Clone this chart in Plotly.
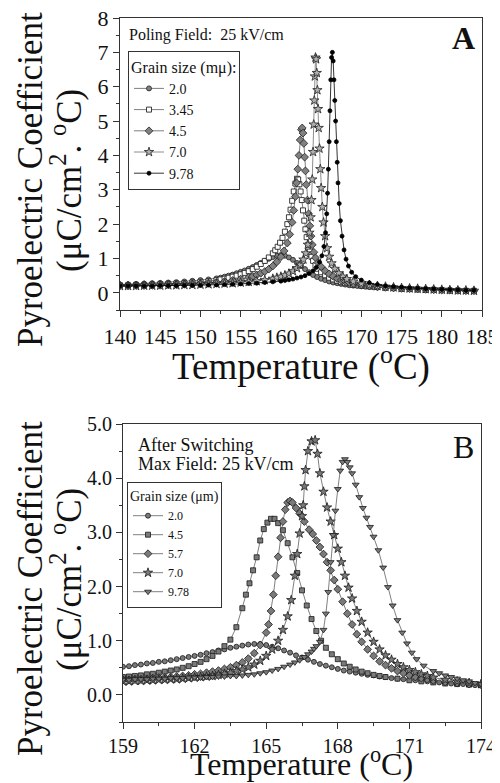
import plotly.graph_objects as go

# ---------------- Panel A: poling field 25 kV/cm ----------------
a_labels = ["2.0", "3.45", "4.5", "7.0", "9.78"]

a_t_20 = [140, 141, 142, 143, 144, 145, 146, 147, 148, 149, 150, 151, 152, 152.5, 153, 153.5,
          154, 154.5, 155, 155.5, 156, 156.5, 157, 157.5, 158, 158.5, 159, 159.5, 160, 160.5,
          161, 161.5, 162, 162.5, 163, 163.5, 164, 164.5, 165, 165.5, 166, 166.5, 167, 167.5,
          168, 168.5, 169, 169.5, 170, 170.5, 171, 171.5, 172, 173, 174, 175, 176, 177, 178,
          179, 180, 181, 182, 183, 184]
a_v_20 = [0.24, 0.25, 0.26, 0.27, 0.28, 0.29, 0.30, 0.31, 0.33, 0.35, 0.37, 0.39, 0.42, 0.44,
          0.47, 0.50, 0.53, 0.57, 0.61, 0.65, 0.70, 0.75, 0.81, 0.87, 0.93, 0.99, 1.04, 1.08,
          1.10, 1.08, 1.03, 0.96, 0.87, 0.78, 0.69, 0.60, 0.52, 0.46, 0.41, 0.37, 0.33, 0.30,
          0.28, 0.26, 0.24, 0.22, 0.21, 0.20, 0.19, 0.18, 0.17, 0.16, 0.15, 0.14, 0.13, 0.12,
          0.11, 0.10, 0.09, 0.09, 0.08, 0.07, 0.07, 0.06, 0.06]

a_t_345 = [140, 141, 142, 143, 144, 145, 146, 147, 148, 149, 150, 151, 152, 152.5, 153, 153.5,
           154, 154.5, 155, 155.5, 156, 156.5, 157, 157.5, 158, 158.5, 159, 159.3, 159.6, 159.9,
           160.2, 160.5, 160.8, 161.0, 161.2, 161.4, 161.6, 161.8, 162.0, 162.15, 162.3, 162.45,
           162.6, 162.75, 162.9, 163.05, 163.2, 163.4, 163.6, 163.8, 164, 164.3, 164.6, 165,
           165.5, 166, 166.5, 167, 167.5, 168, 169, 170, 171, 172, 173, 174, 175, 176, 177, 178,
           179, 180, 181, 182, 183, 184]
a_v_345 = [0.22, 0.22, 0.23, 0.23, 0.24, 0.25, 0.26, 0.27, 0.28, 0.30, 0.32, 0.34, 0.37, 0.39,
           0.41, 0.44, 0.47, 0.50, 0.54, 0.58, 0.63, 0.69, 0.76, 0.84, 0.93, 1.03, 1.15, 1.24,
           1.34, 1.46, 1.60, 1.78, 2.00, 2.20, 2.42, 2.68, 2.95, 3.18, 3.32, 3.30, 3.16, 2.95,
           2.70, 2.40, 2.10, 1.85, 1.62, 1.40, 1.20, 1.05, 0.93, 0.80, 0.70, 0.60, 0.51, 0.44,
           0.39, 0.35, 0.31, 0.28, 0.24, 0.21, 0.19, 0.17, 0.15, 0.14, 0.12, 0.11, 0.10, 0.09,
           0.09, 0.08, 0.07, 0.07, 0.06, 0.06]

a_t_45 = [140, 141, 142, 143, 144, 145, 146, 147, 148, 149, 150, 151, 152, 153, 154, 155, 156,
          156.5, 157, 157.5, 158, 158.5, 159, 159.5, 160, 160.4, 160.8, 161.1, 161.4, 161.6,
          161.8, 161.95, 162.1, 162.25, 162.4, 162.55, 162.65, 162.75, 162.85, 162.95, 163.05,
          163.15, 163.3, 163.45, 163.6, 163.75, 163.9, 164.1, 164.3, 164.6, 165, 165.5, 166,
          166.5, 167, 167.5, 168, 168.5, 169, 170, 171, 172, 173, 174, 175, 176, 177, 178, 179,
          180, 181, 182, 183, 184]
a_v_45 = [0.20, 0.20, 0.21, 0.21, 0.22, 0.22, 0.23, 0.24, 0.25, 0.26, 0.27, 0.29, 0.31, 0.33,
          0.36, 0.40, 0.45, 0.48, 0.52, 0.57, 0.62, 0.69, 0.78, 0.90, 1.05, 1.22, 1.45, 1.70,
          2.05, 2.40, 2.80, 3.20, 3.60, 4.00, 4.45, 4.75, 4.80, 4.65, 4.35, 3.95, 3.55, 3.15,
          2.70, 2.30, 1.95, 1.65, 1.40, 1.18, 1.02, 0.88, 0.76, 0.64, 0.55, 0.48, 0.42, 0.37,
          0.33, 0.30, 0.27, 0.23, 0.20, 0.18, 0.16, 0.14, 0.13, 0.12, 0.11, 0.10, 0.09, 0.08,
          0.08, 0.07, 0.06, 0.06]

a_t_70 = [140, 141, 142, 143, 144, 145, 146, 147, 148, 149, 150, 151, 152, 153, 154, 155, 156,
          157, 158, 159, 159.5, 160, 160.5, 161, 161.5, 162, 162.4, 162.8, 163.1, 163.35,
          163.55, 163.7, 163.8, 163.9, 164.0, 164.08, 164.15, 164.22, 164.3, 164.38, 164.46,
          164.54, 164.62, 164.7, 164.8, 164.9, 165.0, 165.15, 165.3, 165.5, 165.75, 166.0,
          166.3, 166.7, 167.2, 167.7, 168.2, 169, 170, 171, 172, 173, 174, 175, 176, 177, 178,
          179, 180, 181, 182, 183, 184]
a_v_70 = [0.20, 0.20, 0.20, 0.21, 0.21, 0.21, 0.22, 0.22, 0.23, 0.23, 0.24, 0.25, 0.26, 0.27,
          0.28, 0.30, 0.32, 0.34, 0.37, 0.41, 0.44, 0.47, 0.51, 0.56, 0.63, 0.72, 0.82, 0.97,
          1.15, 1.40, 1.75, 2.20, 2.70, 3.30, 4.10, 4.90, 5.60, 6.30, 6.85, 6.80, 6.40, 5.90,
          5.35, 4.80, 4.20, 3.60, 3.05, 2.50, 2.05, 1.65, 1.30, 1.05, 0.86, 0.70, 0.57, 0.47,
          0.40, 0.33, 0.27, 0.23, 0.20, 0.18, 0.16, 0.14, 0.13, 0.12, 0.11, 0.10, 0.09, 0.08,
          0.07, 0.07, 0.06]

a_t_978 = [140, 141, 142, 143, 144, 145, 146, 147, 148, 149, 150, 151, 152, 153, 154, 155, 156,
           157, 158, 159, 160, 160.5, 161, 161.5, 162, 162.5, 163, 163.5, 164, 164.4, 164.8,
           165.1, 165.35, 165.55, 165.7, 165.8, 165.9, 166.0, 166.1, 166.2, 166.3, 166.4, 166.5,
           166.6, 166.7, 166.8, 166.9, 167.0, 167.1, 167.25, 167.4, 167.6, 167.85, 168.1, 168.4,
           168.8, 169.3, 170, 171, 172, 173, 174, 175, 176, 177, 178, 179, 180, 181, 182, 183, 184]
a_v_978 = [0.20, 0.20, 0.20, 0.20, 0.20, 0.21, 0.21, 0.21, 0.22, 0.22, 0.22, 0.23, 0.23, 0.24,
           0.25, 0.26, 0.27, 0.28, 0.30, 0.32, 0.34, 0.36, 0.38, 0.40, 0.43, 0.46, 0.50, 0.56,
           0.64, 0.74, 0.90, 1.08, 1.35, 1.75, 2.30, 2.90, 3.60, 4.40, 5.30, 6.20, 6.85, 7.00,
           6.75, 6.20, 5.60, 5.00, 4.40, 3.80, 3.20, 2.60, 2.10, 1.65, 1.25, 0.98, 0.78, 0.60,
           0.47, 0.37, 0.29, 0.24, 0.20, 0.18, 0.16, 0.14, 0.13, 0.12, 0.11, 0.10, 0.09, 0.08,
           0.07, 0.07]

# ---------------- Panel B: after switching ----------------
b_labels = ["2.0", "4.5", "5.7", "7.0", "9.78"]

b_t_20 = [159.0, 159.25, 159.5, 159.75, 160.0, 160.25, 160.5, 160.75, 161.0, 161.25, 161.5,
          161.75, 162.0, 162.25, 162.5, 162.75, 163.0, 163.25, 163.5, 163.75, 164.0, 164.25,
          164.5, 164.75, 165.0, 165.25, 165.5, 165.75, 166.0, 166.25, 166.5, 166.75, 167.0,
          167.25, 167.5, 167.75, 168.0, 168.25, 168.5, 168.75, 169.0, 169.25, 169.5, 169.75,
          170.0, 170.25, 170.5, 170.75, 171.0, 171.25, 171.5, 171.75, 172.0, 172.25, 172.5,
          172.75, 173.0, 173.25, 173.5, 173.75, 174.0]
b_v_20 = [0.52, 0.53, 0.55, 0.56, 0.58, 0.59, 0.61, 0.62, 0.64, 0.66, 0.68, 0.70, 0.72, 0.74,
          0.77, 0.79, 0.82, 0.84, 0.87, 0.89, 0.91, 0.93, 0.94, 0.94, 0.92, 0.89, 0.86, 0.82,
          0.78, 0.73, 0.69, 0.65, 0.61, 0.57, 0.54, 0.51, 0.48, 0.45, 0.43, 0.41, 0.39, 0.37,
          0.36, 0.34, 0.33, 0.31, 0.30, 0.29, 0.28, 0.27, 0.26, 0.25, 0.24, 0.23, 0.22, 0.21,
          0.20, 0.20, 0.19, 0.18, 0.18]

b_t_45 = [159.0, 159.25, 159.5, 159.75, 160.0, 160.25, 160.5, 160.75, 161.0, 161.25, 161.5,
          161.75, 162.0, 162.25, 162.5, 162.75, 163.0, 163.25, 163.5, 163.75, 164.0, 164.15,
          164.3, 164.45, 164.6, 164.75, 164.9, 165.05, 165.2, 165.35, 165.5, 165.7, 165.9,
          166.1, 166.3, 166.5, 166.7, 166.9, 167.1, 167.3, 167.5, 167.75, 168.0, 168.25, 168.5,
          168.75, 169.0, 169.25, 169.5, 169.75, 170.0, 170.5, 171.0, 171.5, 172.0, 172.5,
          173.0, 173.5, 174.0]
b_v_45 = [0.33, 0.34, 0.35, 0.36, 0.38, 0.39, 0.41, 0.43, 0.45, 0.47, 0.50, 0.53, 0.57, 0.61,
          0.66, 0.72, 0.80, 0.90, 1.02, 1.25, 1.60, 1.85, 2.06, 2.30, 2.54, 2.85, 3.06, 3.18,
          3.25, 3.25, 3.17, 3.04, 2.80, 2.54, 2.25, 1.93, 1.65, 1.40, 1.18, 1.00, 0.87, 0.75,
          0.66, 0.58, 0.52, 0.47, 0.43, 0.40, 0.37, 0.35, 0.33, 0.30, 0.27, 0.25, 0.23, 0.21,
          0.20, 0.19, 0.18]

b_t_57 = [159.0, 159.25, 159.5, 159.75, 160.0, 160.25, 160.5, 160.75, 161.0, 161.25, 161.5,
          161.75, 162.0, 162.25, 162.5, 162.75, 163.0, 163.25, 163.5, 163.75, 164.0, 164.25,
          164.5, 164.75, 165.0, 165.1, 165.2, 165.3, 165.4, 165.5, 165.6, 165.7, 165.8, 165.9,
          166.0, 166.1, 166.25, 166.4, 166.6, 166.8, 166.95, 167.1, 167.25, 167.4, 167.55,
          167.7, 167.85, 168.0, 168.2, 168.4, 168.6, 168.8, 169.0, 169.25, 169.5, 169.75,
          170.0, 170.25, 170.5, 170.75, 171.0, 171.25, 171.5, 171.75, 172.0, 172.5, 173.0,
          173.5, 174.0]
b_v_57 = [0.28, 0.28, 0.29, 0.29, 0.30, 0.31, 0.32, 0.32, 0.33, 0.34, 0.35, 0.36, 0.38, 0.39,
          0.41, 0.43, 0.45, 0.48, 0.51, 0.55, 0.60, 0.67, 0.77, 0.92, 1.15, 1.30, 1.55, 1.85,
          2.20, 2.55, 2.90, 3.20, 3.42, 3.55, 3.58, 3.55, 3.45, 3.35, 3.20, 3.05, 2.97, 2.85,
          2.73, 2.60, 2.45, 2.30, 2.12, 1.95, 1.72, 1.50, 1.30, 1.12, 0.98, 0.84, 0.72, 0.62,
          0.55, 0.49, 0.44, 0.40, 0.36, 0.33, 0.31, 0.29, 0.27, 0.24, 0.22, 0.20, 0.19]

b_t_70 = [159.0, 159.25, 159.5, 159.75, 160.0, 160.25, 160.5, 160.75, 161.0, 161.25, 161.5,
          161.75, 162.0, 162.25, 162.5, 162.75, 163.0, 163.25, 163.5, 163.75, 164.0, 164.25,
          164.5, 164.75, 165.0, 165.25, 165.5, 165.7, 165.9, 166.05, 166.2, 166.3, 166.4,
          166.5, 166.55, 166.6, 166.65, 166.75, 166.9, 167.05, 167.15, 167.25, 167.4, 167.55,
          167.7, 167.85, 168.0, 168.15, 168.3, 168.45, 168.6, 168.8, 169.0, 169.25, 169.5,
          169.75, 170.0, 170.25, 170.5, 170.75, 171.0, 171.25, 171.5, 171.75, 172.0, 172.5,
          173.0, 173.5, 174.0]
b_v_70 = [0.25, 0.25, 0.26, 0.26, 0.27, 0.27, 0.28, 0.28, 0.29, 0.29, 0.30, 0.31, 0.32, 0.33,
          0.34, 0.35, 0.37, 0.39, 0.41, 0.44, 0.47, 0.51, 0.56, 0.63, 0.72, 0.84, 1.00, 1.20,
          1.45, 1.75, 2.20, 2.60, 2.98, 3.30, 3.50, 3.85, 4.15, 4.50, 4.68, 4.70, 4.45, 4.09,
          3.75, 3.46, 3.20, 2.95, 2.70, 2.45, 2.20, 1.98, 1.78, 1.55, 1.35, 1.15, 0.98, 0.84,
          0.73, 0.65, 0.57, 0.51, 0.46, 0.42, 0.38, 0.35, 0.32, 0.28, 0.25, 0.22, 0.20]

b_t_978 = [159.0, 159.25, 159.5, 159.75, 160.0, 160.25, 160.5, 160.75, 161.0, 161.25, 161.5,
           161.75, 162.0, 162.25, 162.5, 162.75, 163.0, 163.25, 163.5, 163.75, 164.0, 164.25,
           164.5, 164.75, 165.0, 165.25, 165.5, 165.75, 166.0, 166.2, 166.4, 166.6, 166.75,
           166.9, 167.0, 167.1, 167.25, 167.4, 167.5, 167.6, 167.7, 167.8, 167.9, 168.0, 168.1,
           168.2, 168.3, 168.4, 168.5, 168.6, 168.75, 168.9, 169.05, 169.2, 169.35, 169.5,
           169.7, 169.9, 170.1, 170.3, 170.5, 170.7, 170.9, 171.1, 171.3, 171.6, 172.0, 172.25,
           172.5, 172.75, 173.0, 173.25, 173.5, 173.75, 174.0]
b_v_978 = [0.28, 0.28, 0.29, 0.29, 0.29, 0.30, 0.30, 0.30, 0.31, 0.31, 0.31, 0.32, 0.32, 0.32,
           0.33, 0.33, 0.34, 0.34, 0.35, 0.35, 0.36, 0.37, 0.38, 0.40, 0.42, 0.45, 0.48, 0.52,
           0.56, 0.60, 0.64, 0.70, 0.75, 0.80, 0.85, 0.90, 0.98, 1.20, 1.50, 1.90, 2.45, 2.95,
           3.40, 3.80, 4.14, 4.30, 4.35, 4.30, 4.20, 4.09, 3.88, 3.65, 3.45, 3.27, 3.10, 2.92,
           2.67, 2.35, 1.99, 1.65, 1.38, 1.15, 0.95, 0.78, 0.66, 0.54, 0.44, 0.40, 0.36, 0.33,
           0.30, 0.27, 0.25, 0.22, 0.20]

FONT = "Liberation Serif"
OFF = 8            # page body margin in the browser
W, H = 500 - OFF, 783 - OFF


def px(x):
    # screen pixel x -> paper fraction
    return (x - OFF) / W


def py(y):
    # screen pixel y -> paper fraction
    return 1 - (y - OFF) / H


fig = go.Figure()

# panel A traces
a_series = [
    (a_t_20, a_v_20, "circle", 5, "#808080", "#202020", "#606060"),
    (a_t_345, a_v_345, "square", 5, "#ffffff", "#101010", "#606060"),
    (a_t_45, a_v_45, "diamond", 6, "#808080", "#202020", "#606060"),
    (a_t_70, a_v_70, "star", 7, "#b0b0b0", "#202020", "#707070"),
    (a_t_978, a_v_978, "circle", 4, "#000000", "#000000", "#000000"),
]
for label, (t, v, sym, size, fill, edge, lc) in zip(a_labels, a_series):
    fig.add_trace(go.Scatter(
        x=t, y=v, name=label, mode="lines+markers",
        line=dict(color=lc, width=0.8),
        marker=dict(symbol=sym, size=size, color=fill, line=dict(color=edge, width=0.8)),
        xaxis="x", yaxis="y", legend="legend",
    ))

# panel B traces
b_series = [
    (b_t_20, b_v_20, "circle", 5),
    (b_t_45, b_v_45, "square", 5),
    (b_t_57, b_v_57, "diamond", 6),
    (b_t_70, b_v_70, "star", 7),
    (b_t_978, b_v_978, "triangle-down", 6),
]
for label, (t, v, sym, size) in zip(b_labels, b_series):
    fig.add_trace(go.Scatter(
        x=t, y=v, name=label, mode="lines+markers",
        line=dict(color="#606060", width=0.8),
        marker=dict(symbol=sym, size=size, color="#7a7a7a", line=dict(color="#1a1a1a", width=0.8)),
        xaxis="x2", yaxis="y2", legend="legend2",
    ))

axis_common = dict(
    showline=True, linecolor="#333333", linewidth=1.2, mirror=True,
    ticks="outside", ticklen=6, tickwidth=1, tickcolor="#333333",
    showgrid=False, zeroline=False, automargin=False, ticklabeloverflow="allow",
)

fig.update_layout(
    width=W, height=H,
    margin=dict(l=0, r=0, t=0, b=0, autoexpand=False),
    paper_bgcolor="white", plot_bgcolor="white",
    font=dict(family=FONT, color="#111111"),
    xaxis=dict(domain=[px(120), px(482)], range=[140, 185], tick0=140, dtick=5,
               tickfont=dict(size=22), anchor="y",
               minor=dict(dtick=2.5, ticks="outside", ticklen=3, tickcolor="#333333"),
               **axis_common),
    yaxis=dict(domain=[py(310), py(18)], range=[-0.5, 8], tick0=0, dtick=1,
               tickfont=dict(size=22), anchor="x",
               minor=dict(dtick=0.5, ticks="outside", ticklen=3, tickcolor="#333333"),
               **axis_common),
    xaxis2=dict(domain=[px(123), px(481)], range=[159, 174], tick0=159, dtick=3,
                tickfont=dict(size=20), anchor="y2",
                minor=dict(dtick=1.5, ticks="outside", ticklen=3, tickcolor="#333333"),
                **axis_common),
    yaxis2=dict(domain=[py(722), py(424)], range=[-0.5, 5.0], tick0=0, dtick=1,
                tickformat=".1f", tickfont=dict(size=20), anchor="x2",
                minor=dict(dtick=0.5, ticks="outside", ticklen=3, tickcolor="#333333"),
                **axis_common),
    legend=dict(
        x=px(128), y=py(51), xanchor="left", yanchor="top",
        title=dict(text="Grain size (mμ):", font=dict(size=16)),
        font=dict(size=14), bgcolor="white",
        bordercolor="#333333", borderwidth=1, itemwidth=30,
    ),
    legend2=dict(
        x=px(127), y=py(482), xanchor="left", yanchor="top",
        title=dict(text="Grain size (μm)", font=dict(size=14)),
        font=dict(size=12), bgcolor="white",
        bordercolor="#333333", borderwidth=1, itemwidth=30,
    ),
)

notes = [
    # axis titles
    dict(x=px(30), y=py(180), text="Pyroelectric Coefficient", textangle=-90, size=35),
    dict(x=px(66), y=py(181), text="(μC/cm<sup>2</sup>. <sup>o</sup>C)", textangle=-90, size=35),
    dict(x=px(301), y=py(364), text="Temperature (<sup>o</sup>C)", textangle=0, size=37),
    dict(x=px(30), y=py(589), text="Pyroelectric Coefficient", textangle=-90, size=35),
    dict(x=px(66), y=py(580), text="(μC/cm<sup>2</sup>. <sup>o</sup>C)", textangle=-90, size=35),
    dict(x=px(301), y=py(762), text="Temperature (<sup>o</sup>C)", textangle=0, size=32),
]
for n in notes:
    fig.add_annotation(x=n["x"], y=n["y"], xref="paper", yref="paper", text=n["text"],
                       textangle=n["textangle"], showarrow=False,
                       xanchor="center", yanchor="middle", font=dict(size=n["size"], family=FONT))

fig.add_annotation(x=px(127), y=py(35), xref="paper", yref="paper",
                   text="Poling Field:  25 kV/cm", showarrow=False,
                   xanchor="left", yanchor="middle", font=dict(size=16, family=FONT))
fig.add_annotation(x=px(463), y=py(38), xref="paper", yref="paper",
                   text="<b>A</b>", showarrow=False,
                   xanchor="center", yanchor="middle", font=dict(size=32, family=FONT))
fig.add_annotation(x=px(136), y=py(445), xref="paper", yref="paper",
                   text="After Switching", showarrow=False,
                   xanchor="left", yanchor="middle", font=dict(size=18, family=FONT))
fig.add_annotation(x=px(136), y=py(464), xref="paper", yref="paper",
                   text="Max Field: 25 kV/cm", showarrow=False,
                   xanchor="left", yanchor="middle", font=dict(size=18, family=FONT))
fig.add_annotation(x=px(463), y=py(447), xref="paper", yref="paper",
                   text="B", showarrow=False,
                   xanchor="center", yanchor="middle", font=dict(size=32, family=FONT))

fig.write_html("out.html")
